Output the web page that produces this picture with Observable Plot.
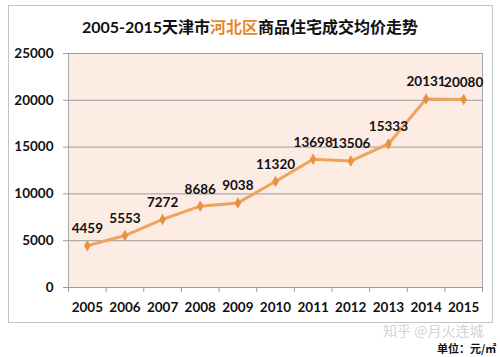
<!DOCTYPE html>
<html>
<head>
<meta charset="utf-8">
<script src="https://cdn.jsdelivr.net/npm/d3@7"></script>
<script src="https://cdn.jsdelivr.net/npm/@observablehq/plot@0.6"></script>
<style>
  body { margin: 0; background: #fff; }
  #wrap { position: relative; width: 500px; height: 357px; overflow: hidden; font-family: Lato, "Noto Sans CJK SC", sans-serif; }
  #box { position: absolute; left: 8px; top: 5px; width: 483px; height: 316px; border: 1px solid #c4c4c4; }
  #title { position: absolute; left: 0; top: 16px; width: 500px; text-align: center; font-size: 16px; font-weight: bold; color: #111; font-family: Lato, "Noto Sans CJK SC", sans-serif; line-height: 22px; }
  #title .hl { color: #e8852e; }
  #chart { position: absolute; left: 0; top: 0; }
  #wm { position: absolute; left: 383px; top: 321px; font-size: 14px; line-height: 18px; color: #d4d4d4; font-family: "Noto Sans CJK SC", sans-serif; }
  #unit { position: absolute; left: 437px; top: 341px; font-size: 11px; line-height: 14px; font-weight: bold; color: #111; font-family: "Noto Sans CJK SC", sans-serif; }
</style>
</head>
<body>
<div id="wrap">
  <div id="box"></div>
  <div id="chart"></div>
  <div id="title">2005-2015天津市<span class="hl">河北区</span>商品住宅成交均价走势</div>
  <div id="wm">知乎 @月火连城</div>
  <div id="unit">单位：元/㎡</div>
</div>
<script>
const years = [2005, 2006, 2007, 2008, 2009, 2010, 2011, 2012, 2013, 2014, 2015];
const prices = [4459, 5553, 7272, 8686, 9038, 11320, 13698, 13506, 15333, 20131, 20080];
const yTicks = [0, 5000, 10000, 15000, 20000, 25000];

const data = years.map((y, i) => ({year: y, price: prices[i]}));
const bounds = years.map(y => y - 0.5).concat([years[years.length - 1] + 0.5]);

const chart = Plot.plot({
  width: 500,
  height: 322,
  marginTop: 53,
  marginBottom: 35,
  marginLeft: 68,
  marginRight: 18,
  style: {fontFamily: "Lato, sans-serif", fontSize: "13.5px", fontWeight: "bold", background: "transparent", color: "#111"},
  x: {type: "linear", domain: [bounds[0], bounds[bounds.length - 1]]},
  y: {domain: [0, 25000]},
  marks: [
    Plot.frame({fill: "#fcece3", stroke: "#a8a8a8"}),
    Plot.gridY(yTicks, {stroke: "#9c9c9c", strokeOpacity: 1}),
    Plot.axisY(yTicks, {tickSize: 5, tickPadding: 10, tickFormat: d => String(d), stroke: "#9c9c9c", fill: "#111", label: null, fontWeight: "bold"}),
    Plot.axisX(bounds, {tickSize: 5, tickFormat: () => "", stroke: "#9c9c9c", label: null}),
    Plot.axisX(years, {tickSize: 0, tickPadding: 15, tickFormat: d => String(d), fill: "#111", label: null, fontWeight: "bold"}),
    Plot.line(data, {x: "year", y: "price", stroke: "#f0a35c", strokeWidth: 3}),
    Plot.dot(data, {x: "year", y: "price", symbol: "diamond", r: 3.5, fill: "#e8913f", stroke: "none"}),
    Plot.text(data, {x: "year", y: "price", text: d => String(d.price), dy: -17, fill: "#111", fontWeight: "bold", fontSize: 13.5})
  ]
});
document.getElementById("chart").appendChild(chart);
</script>
</body>
</html>
